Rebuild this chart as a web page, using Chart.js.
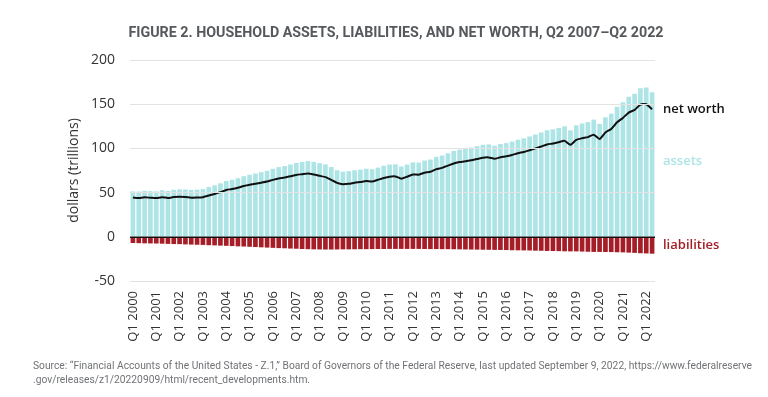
<!DOCTYPE html>
<html><head><meta charset="utf-8">
<script src="https://cdn.jsdelivr.net/npm/chart.js@4"></script>
<style>html,body{margin:0;padding:0;background:#fff;}</style>
</head><body>
<canvas id="c" width="768" height="397"></canvas>
<script>
const TITLE = "FIGURE 2. HOUSEHOLD ASSETS, LIABILITIES, AND NET WORTH, Q2 2007\u2013Q2 2022";
const SOURCE1 = "Source: \u201cFinancial Accounts of the United States - Z.1,\u201d Board of Governors of the Federal Reserve, last updated September 9, 2022, https://www.federalreserve";
const SOURCE2 = ".gov/releases/z1/20220909/html/recent_developments.htm.";
const yTicks = [-50, 0, 50, 100, 150, 200];
const years = [2000,2001,2002,2003,2004,2005,2006,2007,2008,2009,2010,2011,2012,2013,2014,2015,2016,2017,2018,2019,2020,2021,2022];
const quarterNames = ["Q1","Q2","Q3","Q4"];
const categories = [];
years.forEach(y => quarterNames.forEach(q => { if (!(y === 2022 && (q === "Q3" || q === "Q4"))) categories.push(q + " " + y); }));

const assets = [
 51.4,51.2,52.0,51.7, 51.4,52.6,51.9,53.2, 53.7,53.6,53.0,53.4,
 54.0,56.3,58.2,60.5, 63.2,64.5,66.3,68.5, 70.1,71.6,73.1,74.7,
 76.9,78.8,80.0,81.8, 83.5,84.6,85.6,84.7, 83.3,81.9,78.9,75.3,
 73.7,74.2,75.3,76.0, 77.0,76.4,78.3,80.3, 81.7,82.0,79.5,81.7,
 84.2,84.0,86.3,87.4, 90.4,92.0,94.5,97.1, 98.7,99.8,100.9,102.5,
 104.1,104.5,103.0,104.9, 106.0,107.7,109.8,111.4, 113.5,115.7,118.0,120.5,
 121.6,123.2,124.9,120.5, 126.1,128.2,129.7,132.6, 127.8,135.2,139.3,147.0,
 152.1,158.4,161.7,168.1, 168.8,163.4];
const liabilities = [
 -7.0,-7.2,-7.4,-7.5, -7.6,-7.8,-8.0,-8.2, -8.3,-8.6,-8.8,-9.0,
 -9.2,-9.5,-9.7,-10.0, -10.2,-10.5,-10.8,-11.0, -11.3,-11.6,-11.9,-12.2,
 -12.5,-12.8,-13.0,-13.3, -13.5,-13.8,-14.0,-14.2, -14.3,-14.4,-14.4,-14.3,
 -14.2,-14.2,-14.1,-14.0, -14.0,-13.9,-13.8,-13.8, -13.7,-13.7,-13.7,-13.7,
 -13.7,-13.7,-13.8,-13.9, -13.9,-14.0,-14.0,-14.1, -14.2,-14.3,-14.4,-14.5,
 -14.6,-14.7,-14.8,-14.9, -15.0,-15.2,-15.3,-15.4, -15.5,-15.7,-15.8,-16.0,
 -16.1,-16.2,-16.4,-16.5, -16.5,-16.7,-16.9,-17.1, -17.1,-17.2,-17.3,-17.5,
 -17.6,-17.9,-18.2,-18.6, -18.8,-19.1];
const netWorth = [
 44.4,44.0,44.6,44.2, 43.8,44.8,43.9,45.0, 45.4,45.0,44.2,44.4,
 44.8,46.8,48.5,50.5, 53.0,54.0,55.5,57.5, 58.8,60.0,61.2,62.5,
 64.4,66.0,67.0,68.5, 70.0,70.8,71.6,70.5, 69.0,67.5,64.5,61.0,
 59.5,60.0,61.2,62.0, 63.0,62.5,64.5,66.5, 68.0,68.3,65.8,68.0,
 70.5,70.3,72.5,73.5, 76.5,78.0,80.5,83.0, 84.5,85.5,86.5,88.0,
 89.5,89.8,88.2,90.0, 91.0,92.5,94.5,96.0, 98.0,100.0,102.2,104.5,
 105.5,107.0,108.5,104.0, 109.6,111.5,112.8,115.5, 110.7,118.0,122.0,129.5,
 134.5,140.5,143.5,149.5, 150.0,144.3];

const C_ASSETS = '#ade4e6';
const C_LIAB = '#a51d26';
const C_NW = '#111111';

function drawScaledText(ctx, text, x, y, targetWidth, font, color, align) {
  ctx.save();
  ctx.font = font;
  ctx.fillStyle = color;
  ctx.textBaseline = 'middle';
  ctx.textAlign = 'left';
  const w = ctx.measureText(text).width;
  const sx = targetWidth ? targetWidth / w : 1;
  let x0 = x;
  if (align === 'center') x0 = x - (w * sx) / 2;
  ctx.translate(x0, y);
  ctx.scale(sx, 1);
  ctx.fillText(text, 0, 0);
  ctx.restore();
  return sx;
}

const annotations = {
  id: 'annotations',
  afterDatasetsDraw(chart) {
    const {ctx, chartArea, scales} = chart;
    const y = scales.y;
    // zero line on top of bars
    ctx.save();
    ctx.strokeStyle = '#111';
    ctx.lineWidth = 1.5;
    const y0 = Math.round(y.getPixelForValue(0)) + 0.25;
    ctx.beginPath();
    ctx.moveTo(chartArea.left, y0);
    ctx.lineTo(chartArea.right, y0);
    ctx.stroke();
    ctx.restore();
  },
  afterDraw(chart) {
    const {ctx, chartArea, scales} = chart;
    const y = scales.y;
    const n = netWorth.length - 1;
    const lx = chartArea.right + 8;
    ctx.save();
    ctx.textBaseline = 'middle';
    ctx.textAlign = 'left';
    ctx.font = '600 13px "Open Sans", sans-serif';
    ctx.fillStyle = C_NW;
    ctx.fillText('net worth', lx, y.getPixelForValue(netWorth[n]));
    ctx.fillStyle = C_ASSETS;
    ctx.fillText('assets', lx, y.getPixelForValue(assets[n] / 2) - 3);
    ctx.fillStyle = C_LIAB;
    ctx.fillText('liabilities', lx, y.getPixelForValue(liabilities[n] / 2));
    ctx.restore();
    drawScaledText(ctx, TITLE, 396, 33, 535, 'bold 14px Roboto, sans-serif', '#55585c', 'center');
    const sx = drawScaledText(ctx, SOURCE1, 33, 366, 719, '11px Roboto, sans-serif', '#707275', 'left');
    ctx.save();
    ctx.font = '11px Roboto, sans-serif';
    ctx.fillStyle = '#707275';
    ctx.textBaseline = 'middle';
    ctx.translate(33, 380);
    ctx.scale(sx, 1);
    ctx.fillText(SOURCE2, 0, 0);
    ctx.restore();
  }
};

new Chart(document.getElementById('c'), {
  type: 'bar',
  data: {
    labels: categories,
    datasets: [
      { type: 'line', label: 'net worth', data: netWorth, borderColor: C_NW, borderWidth: 2,
        pointRadius: 0, tension: 0.2, order: 0, fill: false },
      { label: 'assets', data: assets, backgroundColor: C_ASSETS, grouped: false,
        barPercentage: 0.8, categoryPercentage: 1, order: 2 },
      { label: 'liabilities', data: liabilities, backgroundColor: C_LIAB, grouped: false,
        barPercentage: 0.8, categoryPercentage: 1, order: 1 }
    ]
  },
  options: {
    responsive: false,
    animation: false,
    devicePixelRatio: 1,
    layout: { padding: { left: 64, right: 113, top: 60, bottom: 46 } },
    plugins: { legend: { display: false }, tooltip: { enabled: false }, title: { display: false } },
    scales: {
      x: {
        grid: { display: false },
        border: { display: false },
        afterFit(s) { s.height = 70; },
        ticks: {
          autoSkip: false, maxRotation: 90, minRotation: 90, padding: 2,
          color: '#333', font: { family: '"Open Sans", sans-serif', size: 13 },
          callback(v, i) { return i % 4 === 0 ? categories[i] : ''; }
        }
      },
      y: {
        min: -50, max: 200,
        afterFit(s) { s.width = 66; },
        afterBuildTicks(s) { s.ticks = yTicks.map(v => ({ value: v })); },
        border: { display: false },
        grid: { color: ctx => ctx.tick && ctx.tick.value === 0 ? 'rgba(0,0,0,0)' : '#e3e3e3', lineWidth: 1, z: 1, drawTicks: false },
        ticks: { padding: 15, color: '#333', font: { family: '"Open Sans", sans-serif', size: 14 } },
        title: { display: true, text: 'dollars (trillions)', color: '#333', padding: { top: 2, bottom: 0 },
                 font: { family: '"Open Sans", sans-serif', size: 14 } }
      }
    }
  },
  plugins: [annotations]
});
</script>
</body></html>
